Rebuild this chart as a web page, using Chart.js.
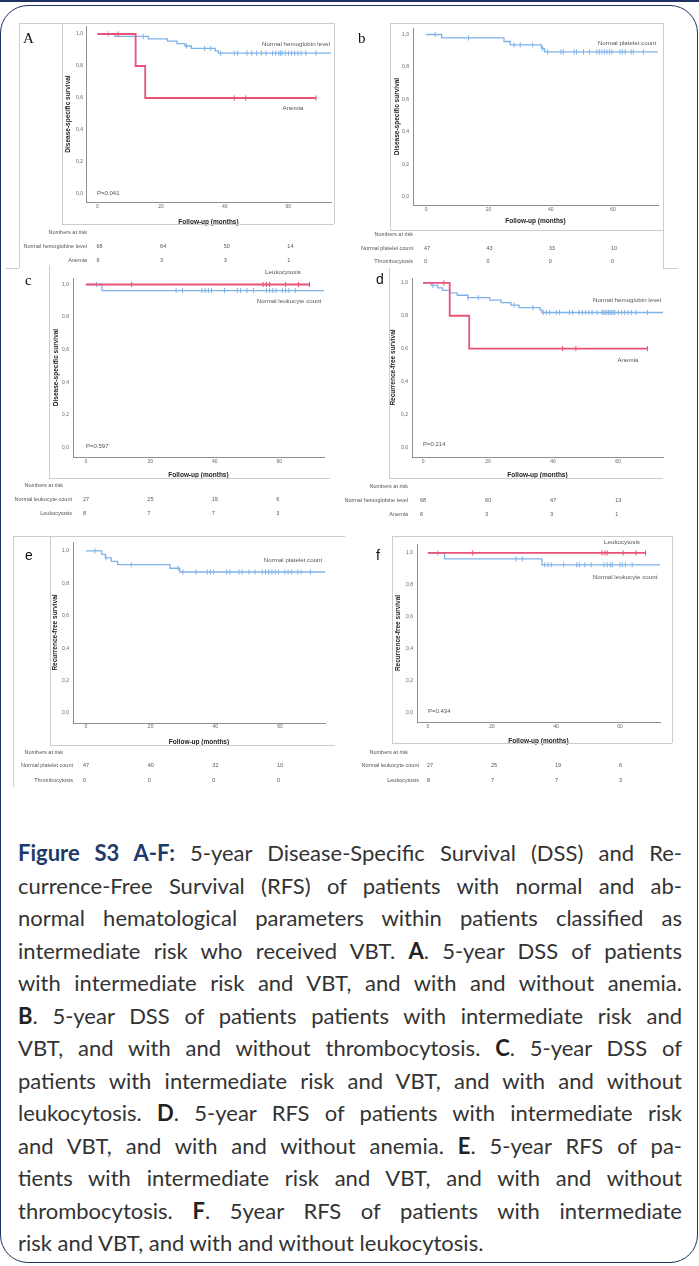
<!DOCTYPE html>
<html>
<head>
<meta charset="utf-8">
<script src="https://cdn.jsdelivr.net/npm/chart.js@4.4.1/dist/chart.umd.min.js"></script>
<style>
html, body { margin: 0; padding: 0; background: #fff; }
#page { position: relative; width: 699px; height: 1266px; overflow: hidden; font-family: "Liberation Sans", Arial, sans-serif; }
#page canvas { position: absolute; }
.ln { position: absolute; background: #cdcdcd; }
.txt { position: absolute; white-space: nowrap; line-height: 1; color: #555; }
.frame { position: absolute; left: 0; top: 5px; width: 698px; height: 1258px; box-sizing: border-box; border: 1.5px solid #1d3260; border-radius: 28px; }
.topbar { position: absolute; left: 0; top: 0; width: 699px; height: 2px; background: #1d3260; }
#cap { position: absolute; left: 18px; top: 837px; width: 664px; font-family: Lato, "Open Sans", sans-serif; font-size: 22px; line-height: 32.5px; color: #333; }
#cap div { text-align: justify; text-align-last: justify; white-space: nowrap; height: 32.5px; }
#cap div.last { text-align-last: left; }
#cap .fig { color: #1e3a6a; }
#cap b { color: #222; }
</style>
</head>
<body>
<div id="page">
  <div class="topbar"></div>
  <div class="frame"></div>
  <div id="cap">
    <div><b class="fig">Figure S3 A-F:</b> 5-year Disease-Specific Survival (DSS) and Re-</div>
    <div>currence-Free Survival (RFS) of patients with normal and ab-</div>
    <div>normal hematological parameters within patients classified as</div>
    <div>intermediate risk who received VBT. <b>A</b>. 5-year DSS of patients</div>
    <div>with intermediate risk and VBT, and with and without anemia.</div>
    <div><b>B</b>. 5-year DSS of patients patients with intermediate risk and</div>
    <div>VBT, and with and without thrombocytosis. <b>C</b>. 5-year DSS of</div>
    <div>patients with intermediate risk and VBT, and with and without</div>
    <div>leukocytosis. <b>D</b>. 5-year RFS of patients with intermediate risk</div>
    <div>and VBT, and with and without anemia. <b>E</b>. 5-year RFS of pa-</div>
    <div>tients with intermediate risk and VBT, and with and without</div>
    <div>thrombocytosis. <b>F</b>. 5year RFS of patients with intermediate</div>
    <div class="last">risk and VBT, and with and without leukocytosis.</div>
  </div>
</div>
<script>
// shared ticks
var xTicks = [0, 20, 40, 60];
var yTicks = [0, 0.2, 0.4, 0.6, 0.8, 1.0];

// A - DSS, hemoglobin
var aNormTime = [0, 5.5, 16, 22, 25, 27.5, 29.5, 37, 38, 73.4];
var aNormSurv = [1, 0.985, 0.97, 0.955, 0.94, 0.925, 0.91, 0.895, 0.88, 0.88];
var aNormCens = [3.4, 14.4, 28, 33.7, 35.6, 38.7, 43, 44, 47, 48.5, 50, 51.5, 53, 55, 56, 57, 57.5, 58, 59, 60, 61, 62, 63, 64, 65.5, 68.7];
var aAnemTime = [0, 12, 15, 68.7];
var aAnemSurv = [1, 0.8, 0.6, 0.6];
var aAnemCens = [6.5, 43, 46.6, 68.7];
var aRiskLabels = ["Normal hemoglobine level", "Anemia"];
var aRiskNorm = [68, 64, 50, 14];
var aRiskAnem = [6, 3, 3, 1];

// b - DSS, platelets
var bNormTime = [0, 5, 25, 27, 37, 38, 74.4];
var bNormSurv = [1, 0.979, 0.957, 0.936, 0.914, 0.893, 0.893];
var bNormCens = [2.9, 13.6, 28.2, 30.2, 34.2, 37.4, 39, 43.3, 44, 47.5, 48.3, 50.5, 52.4, 54.8, 55.6, 56.4, 57.2, 58, 58.8, 59.6, 62.2, 63, 63.9, 65.8, 66.5, 69.7];
var bRiskLabels = ["Normal platelet count", "Thrombocytosis"];
var bRiskNorm = [47, 43, 33, 10];
var bRiskThr = [0, 0, 0, 0];

// c - DSS, leukocytes
var cNormTime = [0, 5, 73.9];
var cNormSurv = [1, 0.963, 0.963];
var cNormCens = [3.3, 28, 30, 36, 37, 38, 39, 43, 47, 48, 50, 52, 56, 57, 58, 59, 61, 62, 63, 65];
var cLeukTime = [0, 69.4];
var cLeukSurv = [1, 1];
var cLeukCens = [14.2, 55, 56, 57, 62, 66, 69.4];
var cRiskLabels = ["Normal leukocyte count", "Leukocytosis"];
var cRiskNorm = [27, 25, 19, 6];
var cRiskLeuk = [8, 7, 7, 3];

// d - RFS, hemoglobin
var dNormTime = [0, 2.5, 4.5, 6, 8.2, 10.5, 13.8, 20.5, 24, 27, 29.5, 36, 36.5, 73.8];
var dNormSurv = [1, 0.985, 0.97, 0.955, 0.94, 0.925, 0.91, 0.895, 0.88, 0.865, 0.85, 0.835, 0.82, 0.82];
var dNormCens = [3, 13.8, 17, 28, 33.8, 37, 38, 39, 41, 42, 45, 46, 48, 49, 50, 51, 52, 53.5, 55, 55.5, 56, 56.5, 57, 57.5, 58, 58.5, 59, 60, 61, 62, 63, 64, 65.5, 69];
var dAnemTime = [0, 8.2, 14.2, 69];
var dAnemSurv = [1, 0.8, 0.6, 0.6];
var dAnemCens = [6.4, 42.9, 47, 69];
var dRiskLabels = ["Normal hemoglobine level", "Anemia"];
var dRiskNorm = [68, 60, 47, 13];
var dRiskAnem = [6, 3, 3, 1];

// e - RFS, platelets
var eNormTime = [0, 4.9, 6, 7.8, 9.8, 26, 29, 73.9];
var eNormSurv = [1, 0.979, 0.957, 0.936, 0.915, 0.893, 0.87, 0.87];
var eNormCens = [2.8, 6.2, 14, 28.5, 30, 34, 37.5, 38.5, 39.5, 43.5, 44.5, 47.3, 48.3, 50.4, 52.3, 54.5, 55.5, 56.5, 57.5, 58.5, 59.5, 61.5, 62.5, 63.6, 65.5, 66.5, 69.4];
var eRiskLabels = ["Normal platelet count", "Thrombocytosis"];
var eRiskNorm = [47, 40, 32, 10];
var eRiskThr = [0, 0, 0, 0];

// f - RFS, leukocytes
var fNormTime = [0, 5.2, 35.6, 72.5];
var fNormSurv = [1, 0.963, 0.926, 0.926];
var fNormCens = [3.1, 27.5, 29.5, 36.5, 37.5, 38.5, 42.4, 46.5, 47.3, 49, 51, 55, 56, 57, 57.6, 60, 60.7, 61.7, 63.8];
var fLeukTime = [0, 68];
var fLeukSurv = [1, 1];
var fLeukCens = [14, 54.4, 55.3, 56, 61, 65, 68];
var fRiskLabels = ["Normal leukocyte count", "Leukocytosis"];
var fRiskNorm = [27, 25, 19, 6];
var fRiskLeuk = [8, 7, 7, 3];

var BLUE = "#80b2ea", RED = "#ea5277";
var XH = 30, TFS = 6.5, TLH = TFS * 1.2;
var page = document.getElementById("page");
Chart.defaults.font.family = '"Liberation Sans", Arial, sans-serif';

function survAt(times, surv, t) {
  var s = surv[0];
  for (var i = 0; i < times.length; i++) if (times[i] <= t) s = surv[i];
  return s;
}
function curve(times, surv) {
  return times.map(function (t, i) { return {x: t, y: surv[i]}; });
}
function marks(times, surv, cens) {
  return cens.map(function (t) { return {x: t, y: survAt(times, surv, t)}; });
}

function addText(txt, x, y, o) {
  var d = document.createElement("div");
  d.className = "txt";
  d.textContent = txt;
  d.style.left = x + "px";
  d.style.top = y + "px";
  d.style.fontSize = (o.size || 6.2) + "px";
  if (o.family) d.style.fontFamily = o.family;
  if (o.color) d.style.color = o.color;
  d.style.transform = o.center ? "translate(-50%,-50%)" : "translate(0,-50%)";
  page.appendChild(d);
}
function addLines(list) {
  list.forEach(function (l) {
    var d = document.createElement("div");
    d.className = "ln";
    d.style.left = Math.min(l[0], l[2]) + "px";
    d.style.top = Math.min(l[1], l[3]) + "px";
    d.style.width = Math.max(1, Math.abs(l[2] - l[0])) + "px";
    d.style.height = Math.max(1, Math.abs(l[3] - l[1])) + "px";
    page.appendChild(d);
  });
}

function makePanel(p, series, riskLabels, riskRows) {
  var cv = document.createElement("canvas");
  cv.width = p.box[2];
  cv.height = p.box[3];
  cv.style.left = p.box[0] + "px";
  cv.style.top = p.box[1] + "px";
  page.appendChild(cv);

  var yLeft = p.yTitleX - TLH / 2 - 1;
  var YW = p.ax - yLeft;

  var ds = [];
  series.forEach(function (s) {
    ds.push({data: curve(s.t, s.s), borderColor: s.c, borderWidth: s.w, stepped: "before",
      pointRadius: 0, fill: false, order: s.o});
    ds.push({data: marks(s.t, s.s, s.m), borderColor: s.c, backgroundColor: s.c, showLine: false,
      pointStyle: "line", rotation: 90, pointRadius: 2.6, borderWidth: 1, order: s.o});
  });

  var riskTable = {
    id: "risk",
    afterDraw: function (ch) {
      var ctx = ch.ctx, xs = ch.scales.x, ox = p.box[0], oy = p.box[1];
      ctx.save();
      ctx.font = '5.5px "Liberation Sans", Arial, sans-serif';
      ctx.fillStyle = "#555";
      ctx.textBaseline = "middle";
      ctx.textAlign = "right";
      ctx.fillText("Numbers at risk", p.nx - ox, p.riskY[0] - oy);
      riskLabels.forEach(function (lab, r) {
        var y = p.riskY[r + 1] - oy;
        ctx.textAlign = "right";
        ctx.fillText(lab, p.lx - ox, y);
        ctx.textAlign = "left";
        riskRows[r].forEach(function (v, j) {
          ctx.fillText(String(v), xs.getPixelForValue(xTicks[j]) + p.vo, y);
        });
      });
      ctx.restore();
    }
  };

  new Chart(cv, {
    type: "line",
    data: {datasets: ds},
    options: {
      responsive: false,
      animation: false,
      devicePixelRatio: 1,
      layout: {padding: {
        left: yLeft - p.box[0],
        top: p.top - p.box[1],
        right: p.box[0] + p.box[2] - p.right,
        bottom: p.box[1] + p.box[3] - (p.ay + XH)
      }},
      plugins: {legend: {display: false}, tooltip: {enabled: false}},
      scales: {
        x: {
          type: "linear", min: p.xMin, max: p.xMax,
          grid: {display: false, drawTicks: false},
          border: {display: true, color: "#8e8e8e", width: 1},
          ticks: {font: {size: 5}, color: "#666", padding: p.xLabY - p.ay - 3, maxRotation: 0, autoSkip: false},
          title: {display: true, text: "Follow-up (months)", color: "#222",
            font: {size: TFS, weight: "bold"},
            padding: {top: 0, bottom: p.ay + XH - TLH / 2 - p.xTitleY}},
          afterBuildTicks: function (s) { s.ticks = xTicks.map(function (v) { return {value: v}; }); },
          afterFit: function (s) { s.height = XH; s.paddingLeft = 0; s.paddingRight = 0; s.paddingTop = 0; s.paddingBottom = 0; }
        },
        y: {
          type: "linear", min: p.yMin, max: p.yMax,
          grid: {display: false, drawTicks: false},
          border: {display: true, color: "#8e8e8e", width: 1},
          ticks: {font: {size: 5}, color: "#666", padding: p.ax - p.yLabR,
            callback: function (v) { return v.toFixed(1).replace(".", ","); }},
          title: {display: true, text: p.yTitle, color: "#222",
            font: {size: TFS, weight: "bold"}, padding: {top: 1, bottom: 0}},
          afterBuildTicks: function (s) { s.ticks = yTicks.map(function (v) { return {value: v}; }); },
          afterFit: function (s) { s.width = YW; s.paddingLeft = 0; s.paddingRight = 0; s.paddingTop = 0; s.paddingBottom = 0; }
        }
      }
    },
    plugins: [riskTable]
  });
}

var DSS = "Disease-specific survival", RFS = "Recurrence-free survival";
var SERIF = '"Liberation Serif", "Times New Roman", serif';

// panel A
makePanel({box: [0, 20, 345, 252], ax: 86, ay: 202, top: 26, right: 331, xMin: -3.6, xMax: 73.4,
  yMin: -0.05, yMax: 1.05, yTitle: DSS, yTitleX: 68, yLabR: 83, xLabY: 207, xTitleY: 222,
  nx: 87, lx: 87, vo: -1, riskY: [232, 246, 260]},
  [{t: aAnemTime, s: aAnemSurv, m: aAnemCens, c: RED, w: 1.8, o: 0},
   {t: aNormTime, s: aNormSurv, m: aNormCens, c: BLUE, w: 1.3, o: 1}],
  aRiskLabels, [aRiskNorm, aRiskAnem]);
addText("A", 23, 38, {size: 15, family: SERIF, color: "#111"});
addText("Normal hemoglobin level", 296, 44, {center: true});
addText("Anemia", 293, 108, {center: true});
addText("P=0.041", 97, 193, {size: 6});
addLines([[19, 23, 334, 23], [19, 23, 19, 268], [62, 23, 62, 224], [62, 224, 334, 224], [334, 23, 334, 224], [6, 268, 19, 268]]);

// panel b
makePanel({box: [345, 20, 354, 252], ax: 413, ay: 205, top: 28, right: 658, xMin: -4.2, xMax: 74.4,
  yMin: -0.05, yMax: 1.04, yTitle: DSS, yTitleX: 397, yLabR: 409, xLabY: 210, xTitleY: 221,
  nx: 413, lx: 413, vo: -2, riskY: [234, 248, 261]},
  [{t: bNormTime, s: bNormSurv, m: bNormCens, c: BLUE, w: 1.3, o: 1}],
  bRiskLabels, [bRiskNorm, bRiskThr]);
addText("b", 358, 38, {size: 15, family: SERIF, color: "#111"});
addText("Normal platelet count", 627, 43, {center: true});
addLines([[390, 23, 663, 23], [390, 23, 390, 230], [390, 230, 663, 230], [663, 23, 663, 268], [663, 268, 678, 268]]);

// panel c
makePanel({box: [0, 265, 345, 255], ax: 73, ay: 457, top: 278, right: 324, xMin: -4.0, xMax: 73.9,
  yMin: -0.06, yMax: 1.04, yTitle: DSS, yTitleX: 56, yLabR: 69, xLabY: 462, xTitleY: 475,
  nx: 63, lx: 72, vo: -3, riskY: [485, 499, 513]},
  [{t: cLeukTime, s: cLeukSurv, m: cLeukCens, c: RED, w: 1.8, o: 0},
   {t: cNormTime, s: cNormSurv, m: cNormCens, c: BLUE, w: 1.3, o: 1}],
  cRiskLabels, [cRiskNorm, cRiskLeuk]);
addText("c", 25, 280, {size: 15, family: SERIF, color: "#111"});
addText("Leukocytosis", 283, 272, {center: true});
addText("Normal leukocyte count", 289, 301, {center: true});
addText("P=0.597", 86, 446, {size: 6});
addLines([[49, 265, 49, 478], [49, 478, 330, 478]]);

// panel d
makePanel({box: [345, 265, 354, 255], ax: 412, ay: 457, top: 278, right: 663, xMin: -3.4, xMax: 73.8,
  yMin: -0.06, yMax: 1.03, yTitle: RFS, yTitleX: 393, yLabR: 408, xLabY: 462, xTitleY: 475,
  nx: 408, lx: 408, vo: -3, riskY: [486, 500, 514]},
  [{t: dAnemTime, s: dAnemSurv, m: dAnemCens, c: RED, w: 1.8, o: 0},
   {t: dNormTime, s: dNormSurv, m: dNormCens, c: BLUE, w: 1.3, o: 1}],
  dRiskLabels, [dRiskNorm, dRiskAnem]);
addText("d", 376, 279, {size: 14, color: "#111"});
addText("Normal hemoglobin level", 627, 300, {center: true});
addText("Anemia", 628, 360, {center: true});
addText("P=0.214", 423, 444, {size: 6});
addLines([[389, 268, 389, 478], [389, 478, 663, 478]]);

// panel e
makePanel({box: [0, 530, 345, 262], ax: 73, ay: 723, top: 542, right: 325, xMin: -4.0, xMax: 73.9,
  yMin: -0.062, yMax: 1.055, yTitle: RFS, yTitleX: 55, yLabR: 69, xLabY: 727, xTitleY: 742,
  nx: 63, lx: 73, vo: -3, riskY: [752, 765, 780]},
  [{t: eNormTime, s: eNormSurv, m: eNormCens, c: BLUE, w: 1.3, o: 1}],
  eRiskLabels, [eRiskNorm, eRiskThr]);
addText("e", 25, 555, {size: 14, color: "#111"});
addText("Normal platelet count", 293, 560, {center: true});
addLines([[13, 536, 345, 536], [13, 536, 13, 787], [50, 536, 50, 745], [50, 745, 335, 745]]);

// panel f
makePanel({box: [345, 530, 354, 262], ax: 417, ay: 722, top: 544, right: 660, xMin: -3.4, xMax: 72.5,
  yMin: -0.056, yMax: 1.056, yTitle: RFS, yTitleX: 398, yLabR: 413, xLabY: 727, xTitleY: 741,
  nx: 408, lx: 419, vo: -1, riskY: [752, 765, 780]},
  [{t: fLeukTime, s: fLeukSurv, m: fLeukCens, c: RED, w: 1.8, o: 0},
   {t: fNormTime, s: fNormSurv, m: fNormCens, c: BLUE, w: 1.3, o: 1}],
  fRiskLabels, [fRiskNorm, fRiskLeuk]);
addText("f", 376, 555, {size: 14, color: "#111"});
addText("Leukocytosis", 622, 542, {center: true});
addText("Normal leukocyte count", 625, 577, {center: true});
addText("P=0.434", 428, 711, {size: 6});
addLines([[392, 536, 672, 536], [392, 536, 392, 743], [672, 536, 672, 743], [392, 743, 672, 743]]);
</script>
</body>
</html>
